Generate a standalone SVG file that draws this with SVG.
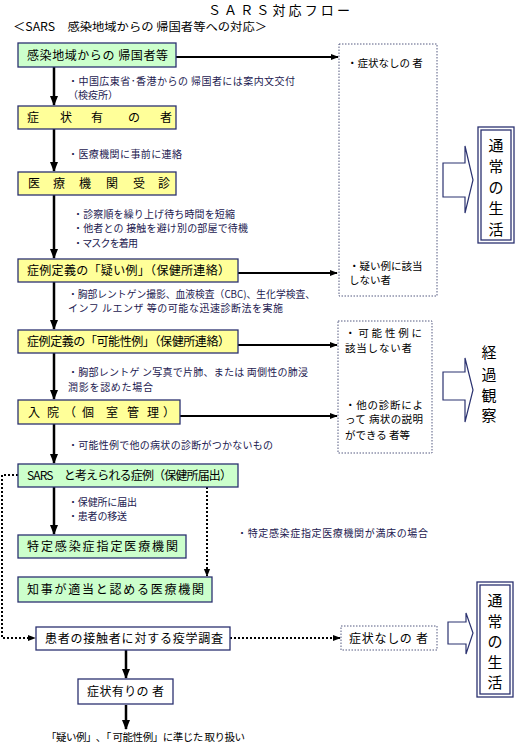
<svg xmlns="http://www.w3.org/2000/svg" width="516" height="747" viewBox="0 0 516 747">
<style>
text{font-family:"Noto Sans CJK JP","Noto Sans",sans-serif;}
.bx{stroke:#2b3270;stroke-width:1.3;}
.g{fill:#ccffcc;}
.y{fill:#ffff99;}
.w{fill:#ffffff;}
.dot{fill:#ffffff;stroke:#555a80;stroke-width:1;stroke-dasharray:1.5,1.5;}
.bt{font-size:12px;fill:#000;}
.an{font-size:10px;fill:#1c2050;}
.dt{font-size:10.5px;fill:#000;}
.vt{font-size:15px;fill:#000;text-anchor:middle;}
.main{stroke:#000;stroke-width:2.5;fill:none;}
.hz{stroke:#000;stroke-width:2;fill:none;}
.dl{stroke:#000;stroke-width:2;stroke-dasharray:2,2;fill:none;}
.blk{fill:#fff;stroke:#2b3270;stroke-width:1.2;}
</style>
<defs>
<marker id="ah" markerUnits="userSpaceOnUse" markerWidth="10" markerHeight="10" viewBox="0 0 10 10" refX="9" refY="5" orient="auto">
<path d="M0,1 L10,5 L0,9 Z" fill="#000"/>
</marker>
<marker id="ahs" markerUnits="userSpaceOnUse" markerWidth="8" markerHeight="8" viewBox="0 0 10 10" refX="9" refY="5" orient="auto">
<path d="M0,1 L10,5 L0,9 Z" fill="#000"/>
</marker>
</defs>

<g id="title">
<text x="208" y="15" font-size="13" textLength="142" lengthAdjust="spacing">ＳＡＲＳ対応フロー</text>
<text x="13" y="31" font-size="11.5" textLength="254" lengthAdjust="spacingAndGlyphs">＜SARS　感染地域からの 帰国者等への対応＞</text>
</g>

<g id="connectors">
<line class="main" x1="54" y1="67" x2="54" y2="105" marker-end="url(#ah)"/>
<line class="main" x1="54" y1="129" x2="54" y2="171" marker-end="url(#ah)"/>
<line class="main" x1="54" y1="195" x2="54" y2="258" marker-end="url(#ah)"/>
<line class="main" x1="54" y1="282" x2="54" y2="329" marker-end="url(#ah)"/>
<line class="main" x1="54" y1="353" x2="54" y2="399" marker-end="url(#ah)"/>
<line class="main" x1="54" y1="424" x2="54" y2="463" marker-end="url(#ah)"/>
<line class="main" x1="54" y1="487" x2="54" y2="534" marker-end="url(#ah)"/>
<line class="main" x1="126" y1="650" x2="126" y2="678" marker-end="url(#ah)"/>
<line class="main" x1="126" y1="705" x2="126" y2="729" marker-end="url(#ah)"/>
<line class="hz" x1="176" y1="57" x2="338" y2="57" marker-end="url(#ahs)"/>
<line class="hz" x1="238" y1="273" x2="337" y2="273" marker-end="url(#ahs)"/>
<line class="hz" x1="238" y1="345" x2="337" y2="345" marker-end="url(#ahs)"/>
<line class="hz" x1="180" y1="416" x2="337" y2="416" marker-end="url(#ahs)"/>
<path class="dl" d="M18,475 H2 V638 H35" marker-end="url(#ahs)"/>
<line class="dl" x1="207" y1="487" x2="207" y2="576" marker-end="url(#ahs)"/>
<line class="dl" x1="230" y1="638" x2="340" y2="638" marker-end="url(#ahs)"/>
</g>

<g id="n1">
<rect class="bx g" x="18" y="43" width="158" height="24"/>
<text class="bt" x="27" y="59.5" textLength="141" lengthAdjust="spacing">感染地域からの 帰国者等</text>
</g>
<g id="n2">
<rect class="bx y" x="18" y="106" width="158" height="23"/>
<text class="bt" x="27 60 91 128 160" y="122">症状有の者</text>
</g>
<g id="n3">
<rect class="bx y" x="18" y="172" width="158" height="23"/>
<text class="bt" x="28 53 79 106 133 158" y="188">医療機関受診</text>
</g>
<g id="n4">
<rect class="bx y" x="18" y="259" width="220" height="23"/>
<text class="bt" x="27" y="275" textLength="203" lengthAdjust="spacing">症例定義の「疑い例」（保健所連絡）</text>
</g>
<g id="n5">
<rect class="bx y" x="18" y="330" width="220" height="23"/>
<text class="bt" x="27" y="346" textLength="203" lengthAdjust="spacing">症例定義の「可能性例」（保健所連絡）</text>
</g>
<g id="n6">
<rect class="bx y" x="18" y="400" width="162" height="24"/>
<text class="bt" x="28 47 64 82 106 127 147 163" y="416.5">入院（個室管理）</text>
</g>
<g id="n7">
<rect class="bx g" x="18" y="464" width="220" height="23"/>
<text class="bt" x="27" y="480" textLength="205" lengthAdjust="spacing">SARS　と考えられる症例（保健所届出）</text>
</g>
<g id="n8">
<rect class="bx g" x="18" y="535" width="168" height="23"/>
<text class="bt" x="27" y="551" textLength="151" lengthAdjust="spacing">特定感染症指定医療機関</text>
</g>
<g id="n9">
<rect class="bx g" x="18" y="577" width="194" height="25"/>
<text class="bt" x="27" y="594" textLength="177" lengthAdjust="spacing">知事が適当と認める医療機関</text>
</g>
<g id="n10">
<rect class="bx w" x="36" y="627" width="194" height="23"/>
<text class="bt" x="45" y="643" textLength="178" lengthAdjust="spacing">患者の接触者に対する疫学調査</text>
</g>
<g id="n11">
<rect class="bx w" x="78" y="679" width="95" height="25"/>
<text class="bt" x="87" y="696" textLength="77" lengthAdjust="spacing">症状有りの 者</text>
</g>
<g id="n12">
<rect class="dot" x="341" y="626" width="96" height="24"/>
<text class="bt" x="349" y="642.5" textLength="79" lengthAdjust="spacing">症状なしの 者</text>
</g>

<g id="d1">
<rect class="dot" x="339" y="44" width="98" height="252"/>
<text class="dt" x="347" y="67">・症状なしの 者</text>
<text class="dt" x="349" y="270">・疑い例に該当</text>
<text class="dt" x="349" y="284">しない者</text>
</g>
<g id="d2">
<rect class="dot" x="338" y="321" width="94" height="132"/>
<text class="dt" x="345" y="337" textLength="77" lengthAdjust="spacing">・可能性例に</text>
<text class="dt" x="345" y="352" textLength="67" lengthAdjust="spacing">該当しない者</text>
<text class="dt" x="345" y="409" textLength="78" lengthAdjust="spacing">・他の診断によ</text>
<text class="dt" x="345" y="423" textLength="78" lengthAdjust="spacing">って 病状の説明</text>
<text class="dt" x="345" y="439" textLength="65" lengthAdjust="spacing">ができる 者等</text>
</g>

<g id="arrow1"><path class="blk" d="M443,163 H465 V146 L473,180 L465,213 V197 H443 Z"/></g>
<g id="arrow2"><path class="blk" d="M443,372 H465 V358 L473,390 L465,422 V400 H443 Z"/></g>
<g id="arrow3"><path class="blk" d="M448,622 H466 V613 L473,633 L466,654 V644 H448 Z"/></g>

<g id="life1">
<rect x="478" y="127" width="36" height="116" fill="#fff" stroke="#2b3270" stroke-width="1.3"/>
<rect x="481" y="130" width="30" height="110" fill="none" stroke="#2b3270" stroke-width="1.3"/>
<text class="vt" x="496" y="151">通</text>
<text class="vt" x="496" y="172">常</text>
<text class="vt" x="496" y="193">の</text>
<text class="vt" x="496" y="214">生</text>
<text class="vt" x="496" y="235">活</text>
</g>
<g id="observe">
<text class="vt" x="489" y="358">経</text>
<text class="vt" x="489" y="380">過</text>
<text class="vt" x="489" y="401">観</text>
<text class="vt" x="489" y="421">察</text>
</g>
<g id="life2">
<rect x="477" y="582" width="36" height="115" fill="#fff" stroke="#2b3270" stroke-width="1.3"/>
<rect x="480" y="585" width="30" height="109" fill="none" stroke="#2b3270" stroke-width="1.3"/>
<text class="vt" x="495" y="606">通</text>
<text class="vt" x="495" y="627">常</text>
<text class="vt" x="495" y="647">の</text>
<text class="vt" x="495" y="668">生</text>
<text class="vt" x="495" y="688">活</text>
</g>

<g id="notes">
<text class="an" x="68" y="85" textLength="227" lengthAdjust="spacing">・中国広東省･香港からの 帰国者には案内文交付</text>
<text class="an" x="68" y="99">（検疫所）</text>
<text class="an" x="68" y="158" textLength="114" lengthAdjust="spacing">・医療機関に事前に連絡</text>
<text class="an" x="73" y="218" textLength="162" lengthAdjust="spacing">・診察順を繰り上げ待ち時間を短縮</text>
<text class="an" x="73" y="232" textLength="175" lengthAdjust="spacing">・他者との 接触を避け別の部屋で待機</text>
<text class="an" x="73" y="247" textLength="65" lengthAdjust="spacing">・マスクを着用</text>
<text class="an" x="68" y="298" textLength="247" lengthAdjust="spacingAndGlyphs">・胸部レントゲン撮影、血液検査（CBC)、生化学検査、</text>
<text class="an" x="68" y="312" textLength="215" lengthAdjust="spacing">インフ ルエンザ 等の可能な迅速診断法を実施</text>
<text class="an" x="68" y="376" textLength="240" lengthAdjust="spacing">・胸部レントゲ ン写真で片肺、または 両側性の肺浸</text>
<text class="an" x="68" y="391" textLength="85" lengthAdjust="spacing">潤影を認めた場合</text>
<text class="an" x="68" y="449" textLength="205" lengthAdjust="spacing">・可能性例で他の病状の診断がつかないもの</text>
<text class="an" x="68" y="506" textLength="69" lengthAdjust="spacing">・保健所に届出</text>
<text class="an" x="68" y="520" textLength="59" lengthAdjust="spacing">・患者の移送</text>
<text class="an" x="237" y="537" textLength="191" lengthAdjust="spacing">・特定感染症指定医療機関が満床の場合</text>
<text x="46" y="741" font-size="10.5" fill="#000" textLength="199" lengthAdjust="spacing">「疑い例」､「 可能性例」に準じた 取り扱い</text>
</g>
</svg>
